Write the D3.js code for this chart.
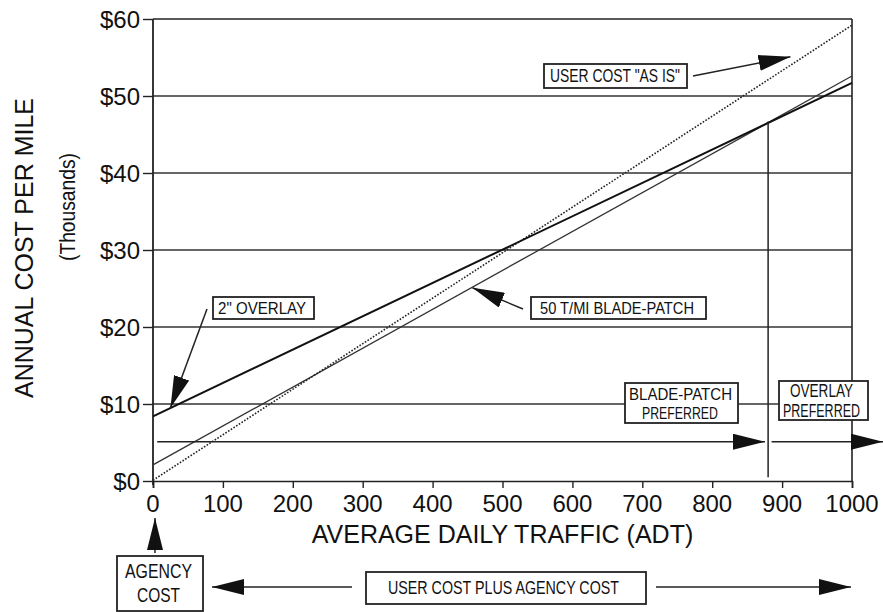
<!DOCTYPE html>
<html>
<head>
<meta charset="utf-8">
<script src="https://cdn.jsdelivr.net/npm/d3@7"></script>
<style>
  html, body { margin: 0; padding: 0; background: #fff; }
  svg { display: block; }
  .sans { font-family: "Liberation Sans", Arial, Helvetica, sans-serif; fill: #111; }
  .cad { font-family: "Liberation Sans Narrow", "Liberation Sans", Arial, sans-serif; fill: #111; }
</style>
</head>
<body>
<svg id="chart" width="883" height="612"></svg>
<script>
// ---------------- data ----------------
const adt = [0, 1000];
const overlayCost = [8.4, 51.7];       // 2" OVERLAY (solid)
const bladePatchCost = [2.1, 52.6];    // 50 T/MI BLADE-PATCH (thin)
const userCostAsIs = [0.1, 59.2];      // USER COST "AS IS" (dotted)
const breakEvenAdt = [880];
const breakEvenCost = [46.7];
const xTicks = [0, 100, 200, 300, 400, 500, 600, 700, 800, 900, 1000];
const yTicks = [0, 10, 20, 30, 40, 50, 60];
const yTickLabels = ["$0", "$10", "$20", "$30", "$40", "$50", "$60"];
const gridValues = [10, 20, 30, 40, 50];

// ---------------- layout ----------------
const W = 883, H = 612;
const mLeft = 153, mRight = 852, mTop = 19, mBottom = 481;
const svg = d3.select("#chart");
svg.append("rect").attr("width", W).attr("height", H).attr("fill", "#fff");

const x = d3.scaleLinear().domain([0, 1000]).range([mLeft, mRight]);
const y = d3.scaleLinear().domain([0, 60]).range([mBottom, mTop]);

// defs: arrowheads
const defs = svg.append("defs");
defs.append("marker").attr("id", "ah")
  .attr("viewBox", "0 0 32 16").attr("refX", 32).attr("refY", 8)
  .attr("markerWidth", 32).attr("markerHeight", 16)
  .attr("markerUnits", "userSpaceOnUse").attr("orient", "auto")
  .append("path").attr("d", "M0,0 L32,8 L0,16 Z").attr("fill", "#111");

// gridlines
svg.append("g").selectAll("line").data(gridValues).join("line")
  .attr("x1", mLeft).attr("x2", mRight)
  .attr("y1", d => y(d)).attr("y2", d => y(d))
  .attr("stroke", "#333").attr("stroke-width", 1.4);

// frame: top & right
svg.append("line").attr("x1", mLeft).attr("x2", mRight).attr("y1", y(60)).attr("y2", y(60))
  .attr("stroke", "#222").attr("stroke-width", 1.6);
svg.append("line").attr("x1", mRight).attr("x2", mRight).attr("y1", y(60)).attr("y2", y(0))
  .attr("stroke", "#222").attr("stroke-width", 1.6);

// axes
const xAxis = d3.axisBottom(x).tickValues(xTicks).tickSize(7).tickFormat("");
const gx = svg.append("g").attr("transform", `translate(0,${mBottom})`).call(xAxis);
gx.select(".domain").attr("stroke", "#222").attr("stroke-width", 1.6);
gx.selectAll(".tick line").attr("stroke", "#222").attr("stroke-width", 1.4);

const yAxis = d3.axisLeft(y).tickValues(yTicks).tickSize(10).tickFormat("");
const gy = svg.append("g").attr("transform", `translate(${mLeft},0)`).call(yAxis);
gy.select(".domain").attr("stroke", "#222").attr("stroke-width", 1.8).attr("d", `M0,${mTop}V${mBottom + 4}`);
gy.selectAll(".tick line").attr("stroke", "#222").attr("stroke-width", 1.4);

// tick labels
svg.append("g").selectAll("text").data(xTicks).join("text")
  .attr("class", "sans").attr("x", d => x(d)).attr("y", 512)
  .attr("text-anchor", "middle").attr("font-size", 24).text(d => d);
svg.append("g").selectAll("text").data(yTicks).join("text")
  .attr("class", "sans").attr("x", 140).attr("y", d => y(d) + 8.5)
  .attr("text-anchor", "end").attr("font-size", 24).text((d, i) => yTickLabels[i]);

// axis titles
svg.append("text").attr("class", "sans").attr("x", (mLeft + mRight) / 2).attr("y", 543)
  .attr("text-anchor", "middle").attr("font-size", 25).text("AVERAGE DAILY TRAFFIC (ADT)");
svg.append("text").attr("class", "sans").attr("transform", "translate(33,248) rotate(-90)")
  .attr("text-anchor", "middle").attr("font-size", 25).text("ANNUAL COST PER MILE");
svg.append("text").attr("class", "sans").attr("transform", "translate(75,207) rotate(-90)")
  .attr("text-anchor", "middle").attr("font-size", 22)
  .attr("textLength", 108).attr("lengthAdjust", "spacingAndGlyphs").text("(Thousands)");

// data lines
const line = d3.line().x(d => x(d[0])).y(d => y(d[1]));
svg.append("path").datum(adt.map((a, i) => [a, bladePatchCost[i]])).attr("d", line)
  .attr("fill", "none").attr("stroke", "#333").attr("stroke-width", 1.3);
svg.append("path").datum(adt.map((a, i) => [a, userCostAsIs[i]])).attr("d", line)
  .attr("fill", "none").attr("stroke", "#222").attr("stroke-width", 1.6).attr("stroke-dasharray", "1.6,1.6");
svg.append("path").datum(adt.map((a, i) => [a, overlayCost[i]])).attr("d", line)
  .attr("fill", "none").attr("stroke", "#111").attr("stroke-width", 2);

// break-even vertical line
svg.append("line").attr("x1", x(breakEvenAdt[0])).attr("x2", x(breakEvenAdt[0]))
  .attr("y1", y(breakEvenCost[0])).attr("y2", y(0.5))
  .attr("stroke", "#222").attr("stroke-width", 1.5);

// helper: arrow
function arrow(x1, y1, x2, y2) {
  svg.append("line").attr("x1", x1).attr("y1", y1).attr("x2", x2).attr("y2", y2)
    .attr("stroke", "#222").attr("stroke-width", 1.5).attr("marker-end", "url(#ah)");
}
// helper: box with text lines
function box(x0, y0, x1, y1, lines, fs) {
  svg.append("rect").attr("x", x0).attr("y", y0).attr("width", x1 - x0).attr("height", y1 - y0)
    .attr("fill", "#fff").attr("stroke", "#222").attr("stroke-width", 1.8);
  lines.forEach(l => {
    svg.append("text").attr("class", "cad").attr("x", l.x).attr("y", l.y)
      .attr("font-size", fs).attr("textLength", l.len).attr("lengthAdjust", "spacingAndGlyphs")
      .text(l.t);
  });
}

// preference arrows at $5
arrow(x(6), y(5.1), x(875.5), y(5.1));
arrow(x(885), y(5.1), 883, y(5.1));

// annotations inside plot
arrow(693, 76, x(912), y(55.1));
box(544, 64, 687, 88, [{ t: 'USER COST "AS IS"', x: 550, y: 82, len: 130 }], 18);

arrow(207, 309, x(25), y(9.5));
box(213, 297, 314, 319, [{ t: '2" OVERLAY', x: 218, y: 314, len: 88 }], 17);

arrow(523, 309, x(457), y(25.1));
box(531, 297, 706, 319, [{ t: "50 T/MI BLADE-PATCH", x: 540, y: 313.5, len: 154 }], 17);

box(625, 383, 738, 423, [
  { t: "BLADE-PATCH", x: 629, y: 399.5, len: 103 },
  { t: "PREFERRED", x: 642, y: 418.5, len: 76 }], 17);
box(779, 381, 868, 420, [
  { t: "OVERLAY", x: 790, y: 396.5, len: 63 },
  { t: "PREFERRED", x: 783, y: 416.5, len: 77 }], 18);

// below axis
arrow(x(0) + 2, 553, x(0) + 2, 518);
box(117, 556, 203, 611, [
  { t: "AGENCY", x: 125, y: 578, len: 67 },
  { t: "COST", x: 137, y: 602, len: 43 }], 20);

arrow(352, 587, 212, 587);
arrow(656, 587, 851, 587);
box(366, 572, 646, 604, [{ t: "USER COST PLUS AGENCY COST", x: 388, y: 593.5, len: 231 }], 18);
</script>
</body>
</html>
